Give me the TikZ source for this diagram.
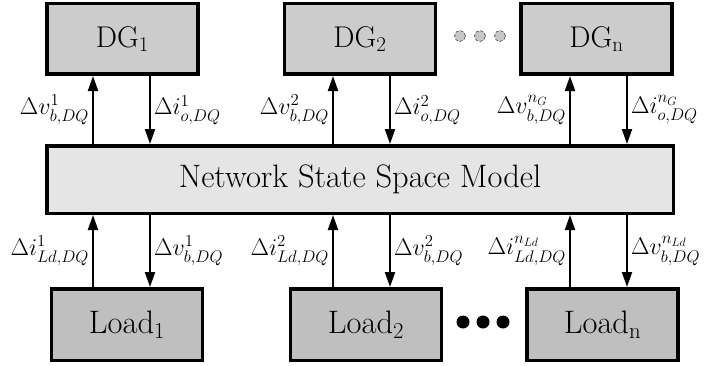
\RequirePackage{fix-cm}
\documentclass[tikz,border=0pt]{standalone}
\usepackage{amsmath}
\usepackage{tikz}
\usetikzlibrary{arrows.meta}

\begin{document}
\begin{tikzpicture}[x=1pt, y=1pt,
    blockbox/.style={draw, line width=3.5pt, rectangle, inner sep=0pt, font=\fontsize{32.5}{34}\selectfont},
    dgbox/.style={blockbox, fill=gray!40, minimum width=151pt, minimum height=70.5pt, font=\fontsize{30}{32}\selectfont},
    loadbox/.style={blockbox, fill=gray!50, minimum width=151pt, minimum height=71.5pt},
    netbox/.style={blockbox, fill=gray!20, minimum width=626.5pt, minimum height=67.5pt},
    flow/.style={line width=2pt, -{Triangle[length=15pt, width=10pt]}},
    sig/.style={font=\fontsize{24}{26}\selectfont, inner sep=3pt}]
  \useasboundingbox (0,0) rectangle (712,365);

  % sources
  \node [dgbox] (dg1) at (122.5,326) {DG$_1$};
  \node [dgbox] (dg2) at (360,326) {DG$_2$};
  \node [dgbox] (dgn) at (596.5,326) {DG$_\mathrm{n}$};
  \foreach \x in {460,480,500}
    \draw [densely dashed, fill=gray!45, draw=gray!60!black, line width=0.7pt] (\x,329) circle (5.5pt);

  % network
  \node [netbox] (net) at (360,185.5) {Network State Space Model};

  % loads
  \node [loadbox] (ld1) at (127,40.5) {Load$_1$};
  \node [loadbox] (ld2) at (366,40.5) {Load$_2$};
  \node [loadbox] (ldn) at (602.5,40.5) {Load$_\mathrm{n}$};
  \foreach \x in {463,483,503}
    \fill (\x,43) circle (6.5pt);

  % network <-> DG
  \draw [flow] ([xshift=-29.5pt]dg1.south |- net.north) -- ([xshift=-29.5pt]dg1.south)
    node [sig, midway, left] {$\Delta v^{1}_{b,DQ}$};
  \draw [flow] ([xshift=27.5pt]dg1.south) -- ([xshift=27.5pt]dg1.south |- net.north)
    node [sig, midway, right] {$\Delta i^{1}_{o,DQ}$};
  \draw [flow] ([xshift=-27pt]dg2.south |- net.north) -- ([xshift=-27pt]dg2.south)
    node [sig, midway, left] {$\Delta v^{2}_{b,DQ}$};
  \draw [flow] ([xshift=30pt]dg2.south) -- ([xshift=30pt]dg2.south |- net.north)
    node [sig, midway, right] {$\Delta i^{2}_{o,DQ}$};
  \draw [flow] ([xshift=-26.5pt]dgn.south |- net.north) -- ([xshift=-26.5pt]dgn.south)
    node [sig, midway, left] {$\Delta v^{n_G}_{b,DQ}$};
  \draw [flow] ([xshift=30.5pt]dgn.south) -- ([xshift=30.5pt]dgn.south |- net.north)
    node [sig, midway, right] {$\Delta i^{n_G}_{o,DQ}$};

  % network <-> loads
  \draw [flow] ([xshift=-34pt]ld1.north) -- ([xshift=-34pt]ld1.north |- net.south)
    node [sig, midway, left] {$\Delta i^{1}_{Ld,DQ}$};
  \draw [flow] ([xshift=23pt]ld1.north |- net.south) -- ([xshift=23pt]ld1.north)
    node [sig, midway, right] {$\Delta v^{1}_{b,DQ}$};
  \draw [flow] ([xshift=-33pt]ld2.north) -- ([xshift=-33pt]ld2.north |- net.south)
    node [sig, midway, left] {$\Delta i^{2}_{Ld,DQ}$};
  \draw [flow] ([xshift=24pt]ld2.north |- net.south) -- ([xshift=24pt]ld2.north)
    node [sig, midway, right] {$\Delta v^{2}_{b,DQ}$};
  \draw [flow] ([xshift=-32.5pt]ldn.north) -- ([xshift=-32.5pt]ldn.north |- net.south)
    node [sig, midway, left] {$\Delta i^{n_{Ld}}_{Ld,DQ}$};
  \draw [flow] ([xshift=24.5pt]ldn.north |- net.south) -- ([xshift=24.5pt]ldn.north)
    node [sig, midway, right] {$\Delta v^{n_{Ld}}_{b,DQ}$};
\end{tikzpicture}
\end{document}
